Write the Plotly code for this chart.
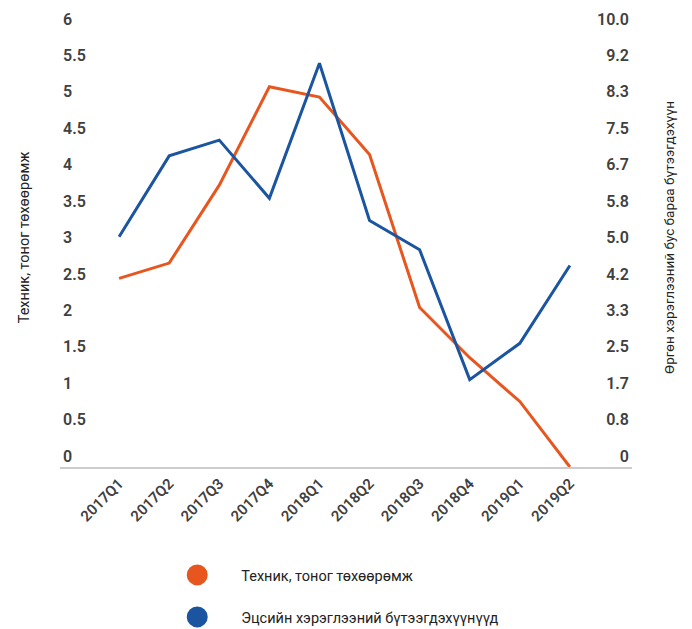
import plotly.graph_objects as go

categories = ["2017Q1", "2017Q2", "2017Q3", "2017Q4", "2018Q1",
              "2018Q2", "2018Q3", "2018Q4", "2019Q1", "2019Q2"]
equipment = [2.59, 2.80, 3.87, 5.22, 5.08, 4.29, 2.19, 1.50, 0.90, 0.0]
consumer = [5.27, 7.12, 7.48, 6.15, 9.24, 5.64, 4.97, 2.00, 2.83, 4.61]

left_title = "Техник, тоног төхөөрөмж"
right_title = "Өргөн хэрэглээний бус бараа бүтээгдэхүүн"
name_equipment = "Техник, тоног төхөөрөмж"
name_consumer = "Эцсийн хэрэглээний бүтээгдэхүүнүүд"

left_ticks = [0, 0.5, 1, 1.5, 2, 2.5, 3, 3.5, 4, 4.5, 5, 5.5, 6]
right_max = 10.0
right_steps = 12
right_ticktext = ["0", "0.8", "1.7", "2.5", "3.3", "4.2", "5.0",
                  "5.8", "6.7", "7.5", "8.3", "9.2", "10.0"]

orange = "#E8561F"
blue = "#1B55A0"
textfont = "Roboto, sans-serif"
tickfont = dict(family="Roboto, sans-serif", size=16, color="#404040", weight=600)

# page has an 8px body margin; figure sized to fill the window exactly
W, H = 684, 621
top_extra = 6.302  # axis range top so that 6 sits where the reference shows it

fig = go.Figure()
fig.add_trace(go.Scatter(x=categories, y=equipment, mode="lines",
                         line=dict(color=orange, width=3), showlegend=False,
                         yaxis="y"))
fig.add_trace(go.Scatter(x=categories, y=consumer, mode="lines",
                         line=dict(color=blue, width=3), showlegend=False,
                         yaxis="y2"))
fig.add_trace(go.Scatter(x=[None], y=[None], mode="markers", name=name_equipment,
                         marker=dict(color=orange, size=16, line=dict(color=orange, width=5)),
                         legend="legend"))
fig.add_trace(go.Scatter(x=[None], y=[None], mode="markers", name=name_consumer,
                         marker=dict(color=blue, size=16, line=dict(color=blue, width=5)),
                         legend="legend2"))

leg_common = dict(font=dict(family=textfont, size=14.5, color="#222"),
                  itemwidth=78, bgcolor="rgba(0,0,0,0)", xanchor="left",
                  yanchor="middle", orientation="v")

fig.update_layout(
    width=W, height=H,
    margin=dict(l=52, r=60, t=0, b=162, autoexpand=False),
    paper_bgcolor="white", plot_bgcolor="white",
    xaxis=dict(type="category", range=[-1.18, 10.24], showgrid=False,
               showline=True, linecolor="#cccccc", linewidth=2,
               ticks="", tickangle=-45,
               tickfont=dict(family="Roboto, sans-serif", size=15, color="#404040", weight=600),
               zeroline=False),
    yaxis=dict(range=[0, top_extra], tickvals=left_ticks, showgrid=False, zeroline=False,
               ticks="", ticklabelposition="inside", ticklabelshift=-11,
               tickfont=tickfont,
               title=dict(text=left_title, font=dict(family=textfont, size=14.5, color="#222"),
                          standoff=29)),
    yaxis2=dict(range=[0, top_extra * right_max / 6], overlaying="y", side="right",
                tickvals=[i * right_max / right_steps for i in range(right_steps + 1)],
                ticktext=right_ticktext, showgrid=False, zeroline=False, ticks="",
                ticklabelposition="inside", ticklabelshift=-11, tickfont=tickfont,
                title=dict(text=right_title, font=dict(family=textfont, size=13.5, color="#222"),
                           standoff=36)),
    legend=dict(x=0.163, y=-0.2353, **leg_common),
    legend2=dict(x=0.163, y=-0.3268, **leg_common),
)

fig.write_html("out.html")
